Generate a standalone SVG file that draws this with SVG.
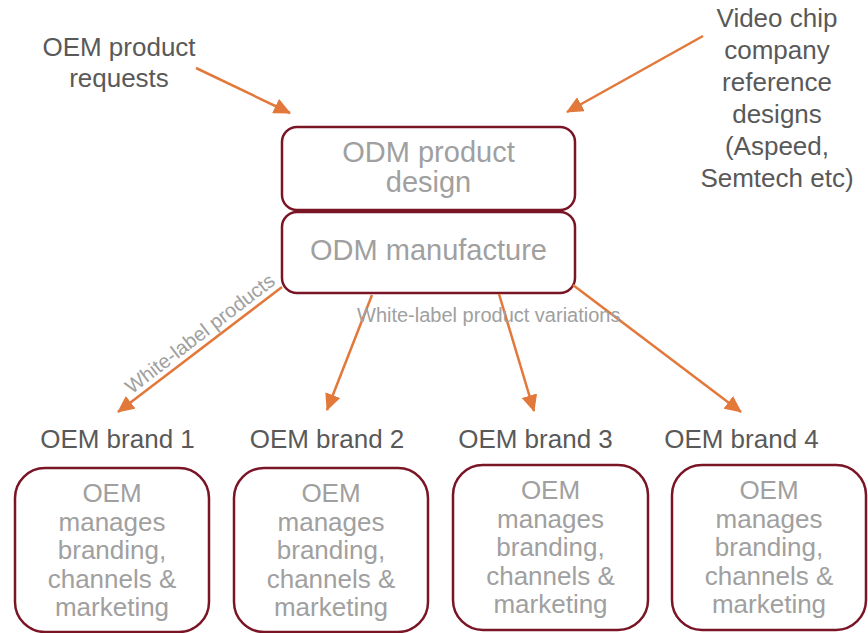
<svg xmlns="http://www.w3.org/2000/svg" width="868" height="633" viewBox="0 0 868 633">
<style>
.box{fill:#fff;stroke:#7a1526;stroke-width:2.5}
.lbl{font-family:"Liberation Sans",Arial,sans-serif;font-size:26px;fill:#595959;text-anchor:middle}
.in{font-family:"Liberation Sans",Arial,sans-serif;font-size:26px;fill:#a0a0a0;text-anchor:middle}
.odm{font-family:"Liberation Sans",Arial,sans-serif;font-size:29px;fill:#a0a0a0;text-anchor:middle}
.edge{stroke:#e2783a;stroke-width:2.5;fill:none;marker-end:url(#ah)}
.el{font-family:"Liberation Sans",Arial,sans-serif;font-size:20px;fill:#a0a0a0}
</style>
<defs>
<marker id="ah" markerUnits="userSpaceOnUse" markerWidth="18" markerHeight="16" refX="16" refY="8" orient="auto">
<path d="M0,0 L17,8 L0,16 Z" fill="#e2783a"/>
</marker>
</defs>
<rect width="868" height="633" fill="#fff"/>
<g id="oem-requests"><text class="lbl" x="119" y="56">OEM product</text><text class="lbl" x="119" y="87">requests</text></g>
<g id="video-chip">
<text class="lbl" x="777" y="27">Video chip</text>
<text class="lbl" x="777" y="59">company</text>
<text class="lbl" x="777" y="91">reference</text>
<text class="lbl" x="777" y="123">designs</text>
<text class="lbl" x="777" y="155">(Aspeed,</text>
<text class="lbl" x="777" y="187">Semtech etc)</text>
</g>
<g id="odm-design"><rect class="box" x="282" y="127" width="293" height="83" rx="15"/><text class="odm" x="428.5" y="162">ODM product</text><text class="odm" x="428.5" y="192">design</text></g>
<g id="odm-manufacture"><rect class="box" x="282" y="212" width="293" height="81" rx="15"/><text class="odm" x="428.5" y="260">ODM manufacture</text></g>
<g id="connectors">
<line class="edge" x1="196" y1="68" x2="290" y2="113"/>
<line class="edge" x1="703" y1="36" x2="567" y2="112"/>
<line class="edge" x1="282" y1="287" x2="118" y2="412"/>
<line class="edge" x1="372" y1="295" x2="327" y2="410"/>
<line class="edge" x1="499" y1="294" x2="534" y2="411"/>
<line class="edge" x1="573" y1="285" x2="741" y2="412"/>
<text class="el" text-anchor="middle" transform="translate(204,339) rotate(-37.5)">White-label products</text>
<text class="el" x="357" y="322">White-label product variations</text>
</g>
<g id="brand1"><text class="lbl" x="117.5" y="448">OEM brand 1</text><rect class="box" x="15" y="468" width="194" height="164" rx="30"/>
<text class="in" x="112" y="502">OEM</text><text class="in" x="112" y="530.5">manages</text><text class="in" x="112" y="559">branding,</text><text class="in" x="112" y="587.5">channels &amp;</text><text class="in" x="112" y="616">marketing</text></g>
<g id="brand2"><text class="lbl" x="327" y="448">OEM brand 2</text><rect class="box" x="234" y="468" width="194" height="164" rx="30"/>
<text class="in" x="331" y="502">OEM</text><text class="in" x="331" y="530.5">manages</text><text class="in" x="331" y="559">branding,</text><text class="in" x="331" y="587.5">channels &amp;</text><text class="in" x="331" y="616">marketing</text></g>
<g id="brand3"><text class="lbl" x="535.5" y="448">OEM brand 3</text><rect class="box" x="453" y="465" width="195" height="165" rx="30"/>
<text class="in" x="550.5" y="499">OEM</text><text class="in" x="550.5" y="527.5">manages</text><text class="in" x="550.5" y="556">branding,</text><text class="in" x="550.5" y="584.5">channels &amp;</text><text class="in" x="550.5" y="613">marketing</text></g>
<g id="brand4"><text class="lbl" x="741.5" y="448">OEM brand 4</text><rect class="box" x="672" y="465" width="194" height="165" rx="30"/>
<text class="in" x="769" y="499">OEM</text><text class="in" x="769" y="527.5">manages</text><text class="in" x="769" y="556">branding,</text><text class="in" x="769" y="584.5">channels &amp;</text><text class="in" x="769" y="613">marketing</text></g>
</svg>
